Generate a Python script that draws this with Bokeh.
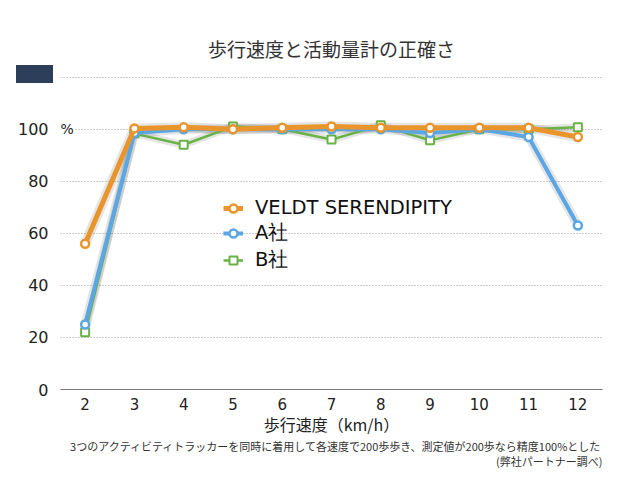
from bokeh.plotting import figure
from bokeh.models import (Range1d, FixedTicker, Legend, LegendItem, Label, Title, Div)
from bokeh.layouts import column
from bokeh.embed import file_html
from bokeh.resources import INLINE

speeds = [2, 3, 4, 5, 6, 7, 8, 9, 10, 11, 12]
veldt = [56, 100.3, 100.7, 100, 100.5, 101, 100.5, 100.5, 100.5, 100.5, 97]
company_a = [25, 98.5, 100, 100, 100, 100, 100, 98.5, 100, 97, 63]
company_b = [22, 98.3, 94, 101, 100, 96, 101.5, 95.7, 100, 100, 100.7]
series_names = ["VELDT SERENDIPITY", "A社", "B社"]
y_ticks = [0, 20, 40, 60, 80, 100, 120]
y_tick_labels = {120: ""}
pct_text = "%"

title_text = "歩行速度と活動量計の正確さ"
x_title = "歩行速度（km/h）"
note1 = "3つのアクティビティトラッカーを同時に着用して各速度で200歩歩き、測定値が200歩なら精度100%とした"
note2 = "(弊社パートナー調べ)"

ORANGE = "#EA952C"
BLUE = "#5BA6E5"
GREEN = "#69B246"
NAVY = "#2D3E5A"
CJK = "'Noto Sans CJK JP'"
LAT = "'DejaVu Sans'"

p = figure(width=640, height=480, output_backend="svg", toolbar_location=None,
           x_range=Range1d(1.5, 12.5), y_range=Range1d(0, 121),
           min_border_left=60, min_border_right=38, min_border_top=74, min_border_bottom=91)
p.outline_line_color = None
p.background_fill_color = "white"
p.border_fill_color = "white"

p.title.text = title_text
p.title.align = "center"
p.title.text_font = CJK
p.title.text_font_size = "19px"
p.title.text_font_style = "normal"
p.title.text_color = "#333333"
p.title.standoff = 25

# axes
p.xaxis.ticker = FixedTicker(ticks=speeds)
p.xaxis.major_tick_line_color = None
p.xaxis.minor_tick_line_color = None
p.xaxis.axis_line_color = "#777777"
p.xaxis.axis_line_width = 1.2
p.xaxis.major_label_text_font = LAT
p.xaxis.major_label_text_font_size = "15px"
p.xaxis.major_label_text_color = "#222222"
p.xaxis.major_label_standoff = 2
p.xaxis.axis_label = x_title
p.xaxis.axis_label_text_font = CJK
p.xaxis.axis_label_text_font_size = "16px"
p.xaxis.axis_label_text_font_style = "normal"
p.xaxis.axis_label_text_color = "#222222"
p.xaxis.axis_label_standoff = -1

p.yaxis.ticker = FixedTicker(ticks=y_ticks)
p.yaxis.major_label_overrides = y_tick_labels
p.yaxis.major_tick_line_color = None
p.yaxis.minor_tick_line_color = None
p.yaxis.axis_line_color = None
p.yaxis.major_label_text_font = LAT
p.yaxis.major_label_text_font_size = "16px"
p.yaxis.major_label_text_color = "#222222"
p.yaxis.major_label_standoff = 6

p.xgrid.grid_line_color = None
p.ygrid.ticker = FixedTicker(ticks=y_ticks[1:])
p.ygrid.grid_line_color = "#999999"
p.ygrid.grid_line_dash = "1 2"
p.ygrid.grid_line_width = 1

# notes below
p.add_layout(Title(text=note1, align="right", text_font=CJK, text_font_size="11px",
                   text_font_style="normal", text_color="#333333", standoff=-5), "below")
p.add_layout(Title(text=note2, align="right", text_font=CJK, text_font_size="11px",
                   text_font_style="normal", text_color="#333333", standoff=-1), "below")

# "%" after the 100 tick label
p.add_layout(Label(x=1.5, y=100, x_offset=0, text=pct_text, text_font=LAT,
                   text_font_size="14px", text_color="#222222", text_baseline="middle",
                   text_align="left", background_fill_color="white"))

specs = [(company_b, GREEN, 2.5, "square", 8, 2), (company_a, BLUE, 4, "circle", 8, 2.5),
         (veldt, ORANGE, 5, "circle", 8, 2.5)]
renderers = []
for ys, col, lw, marker, ms, mlw in specs:
    p.line(speeds, ys, line_color="black", line_alpha=0.10, line_width=lw + 5)
for ys, col, lw, marker, ms, mlw in specs:
    ln = p.line(speeds, ys, line_color=col, line_width=lw)
    sc = p.scatter(speeds, ys, marker=marker, size=ms, fill_color="white",
                   line_color=col, line_width=mlw)
    renderers.append((ln, sc))

items = []
for name, (ln, sc) in zip(series_names, [renderers[2], renderers[1], renderers[0]]):
    items.append(LegendItem(label=name, renderers=[ln, sc]))

legend = Legend(items=items, location=(163, 116), background_fill_alpha=0,
                border_line_color=None, padding=0, margin=0, spacing=0,
                label_height=20, glyph_height=20, glyph_width=20, label_standoff=12,
                label_text_font=LAT, label_text_font_size="19.5px", label_text_color="#111111")
p.add_layout(legend, "center")

# navy block at the top-left (decoration outside the plot frame)
block = Div(width=1, height=0, margin=0, styles={"overflow": "visible"},
            text='<div style="position:absolute;left:16px;top:-415px;width:37px;'
                 'height:18px;background:%s"></div>' % NAVY)

layout = column(p, block, spacing=0)
open("out.html", "w").write(file_html(layout, INLINE))
